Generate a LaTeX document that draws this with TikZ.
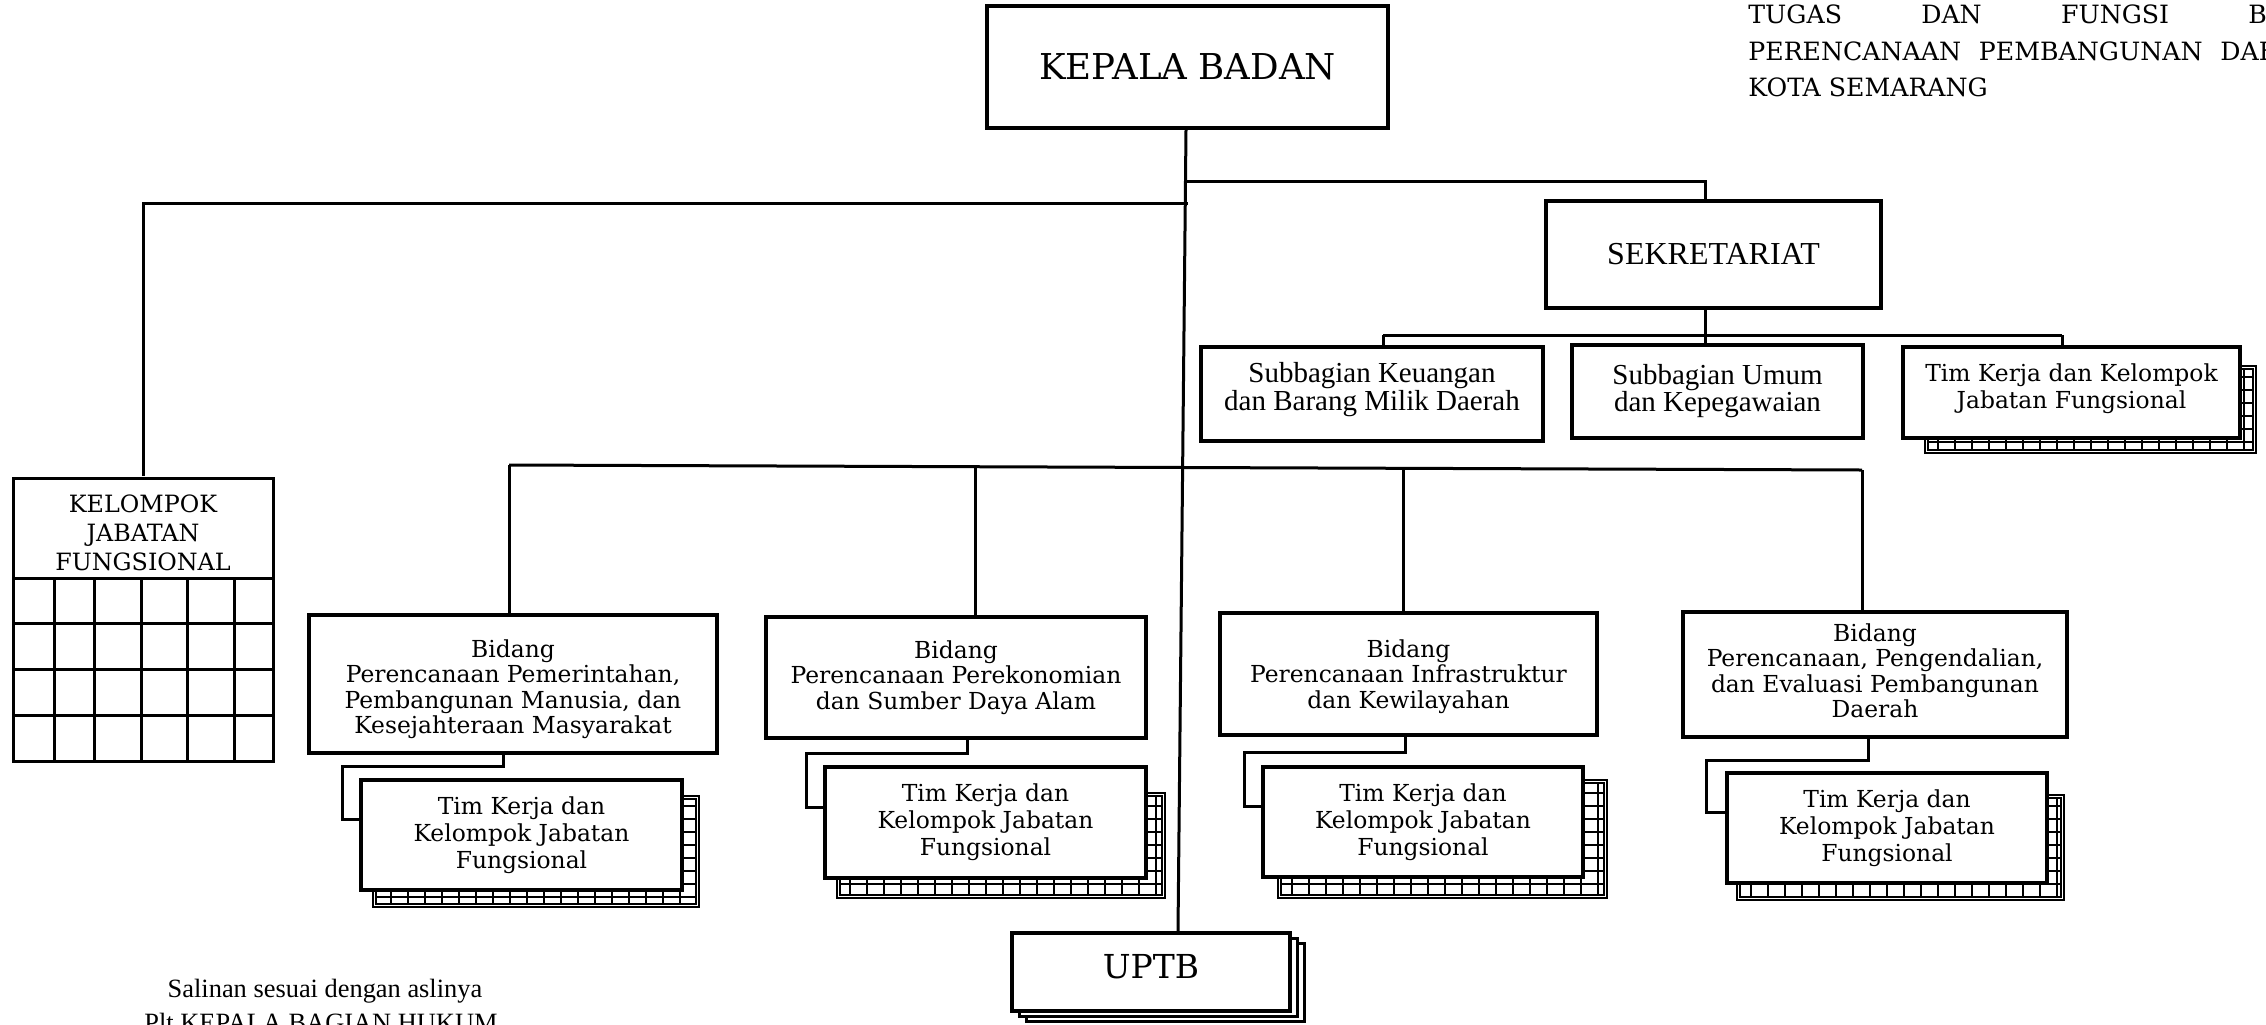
\documentclass[tikz,border=0pt]{standalone}
\usepackage{fontspec}
\setmainfont{DejaVu Serif}
\newfontfamily\tms{Liberation Serif}
\newcommand\bx[7]{\node[#1, minimum width={(#5-#3)*0.5pt}, minimum height={(#6-#4)*0.5pt}] (#2) at ({(#3+#5)/2},{(#4+#6)/2}) {#7};}
\newcommand\mv[2]{\raisebox{#1}[\height][\depth]{\begin{tabular}{@{}c@{}}#2\end{tabular}}}
\newcommand\gshadow[4]{%
  \fill[white] (#1,#2) rectangle (#3,#4);
  \begin{scope}
    \clip ({#1+3},{#2+3}) rectangle ({#3-3},{#4-3});
    \draw[line width=0.85pt, xstep=8.5pt, ystep=6.5pt] (#1,#2) grid (#3,#4);
  \end{scope}
  \draw[line width=0.9pt] (#1,#2) rectangle (#3,#4);
  \draw[line width=0.8pt] ({#1+3},{#2+3}) rectangle ({#3-3},{#4-3});
}
\begin{document}
\begin{tikzpicture}[x=0.5pt,y=-0.5pt,
  box/.style={draw, line width=1.8pt, fill=white, inner sep=0pt, align=center, font=\fontsize{11.7}{12.7}\selectfont},
  timbox/.style={box, line width=2.3pt, font=\fontsize{11.7}{13.5}\selectfont},
  tbox/.style={box, font=\tms\fontsize{14.5}{13.5}\selectfont},
  ln/.style={line width=1.5pt},
  gl/.style={line width=1.5pt}]
\useasboundingbox (0,0) rectangle (2266,1024);

% ---------- top right heading ----------
\begin{scope}[every node/.style={inner sep=0pt, anchor=base west, font=\fontsize{12.6}{13}\selectfont}]
\node (h1) at (1748,23) {\hbox to 250pt{TUGAS\hfill DAN\hfill FUNGSI\hfill\rlap{BADAN}}};
\node (h2) at (1748,60) {\hbox to 236pt{PERENCANAAN\hfill PEMBANGUNAN\hfill\rlap{DAERAH}}};
\node (h3) at (1748,96) {KOTA SEMARANG};
\end{scope}

% ---------- boxes ----------
\bx{box, font=\fontsize{17.8}{20}\selectfont}{kepala}{987}{6}{1388}{128}{KEPALA BADAN}
\bx{tbox, font=\tms\fontsize{16}{17}\selectfont}{sek}{1546}{201}{1881}{308}{SEKRETARIAT}
\bx{tbox}{keu}{1201}{347}{1543}{441}{\mv{1.8pt}{Subbagian Keuangan\\dan Barang Milik Daerah}}
\bx{tbox}{umum}{1572}{345}{1863}{438}{Subbagian Umum\\dan Kepegawaian}
\gshadow{1925}{366}{2256}{453}
\bx{timbox}{timr}{1903}{347}{2240}{438}{\mv{1.5pt}{Tim Kerja dan Kelompok\\Jabatan Fungsional}}

% Kelompok Jabatan Fungsional with grid
\bx{box, font=\fontsize{11.9}{14.5}\selectfont, draw=none, fill=none}{kjf}{13}{478}{273}{578}{\mv{-4pt}{KELOMPOK\\JABATAN\\FUNGSIONAL}}
\draw[gl] (13,478) rectangle (273,761);
\foreach \yy in {578,623,669,715} \draw[gl] (13,\yy) -- (273,\yy);
\foreach \xx in {54,94,141,187,234} \draw[gl] (\xx,578) -- (\xx,761);

% Bidang
\bx{box}{bid1}{309}{615}{717}{753}{\mv{-3.2pt}{Bidang\\Perencanaan Pemerintahan,\\Pembangunan Manusia, dan\\Kesejahteraan Masyarakat}}
\bx{box}{bid2}{766}{617}{1146}{738}{Bidang\\Perencanaan Perekonomian\\dan Sumber Daya Alam}
\bx{box}{bid3}{1220}{613}{1597}{735}{\mv{-1.8pt}{Bidang\\Perencanaan Infrastruktur\\dan Kewilayahan}}
\bx{box}{bid4}{1683}{612}{2067}{737}{\mv{0pt}{Bidang\\Perencanaan, Pengendalian,\\dan Evaluasi Pembangunan\\Daerah}}

% Tim Kerja under Bidang
\gshadow{373}{796}{699}{907}
\bx{timbox}{tim1}{361}{780}{682}{890}{Tim Kerja dan\\Kelompok Jabatan\\Fungsional}
\gshadow{837}{793}{1165}{898}
\bx{timbox}{tim2}{825}{767}{1146}{878}{Tim Kerja dan\\Kelompok Jabatan\\Fungsional}
\gshadow{1278}{780}{1607}{898}
\bx{timbox}{tim3}{1263}{767}{1583}{877}{Tim Kerja dan\\Kelompok Jabatan\\Fungsional}
\gshadow{1737}{795}{2064}{900}
\bx{timbox}{tim4}{1727}{773}{2047}{883}{Tim Kerja dan\\Kelompok Jabatan\\Fungsional}

% UPTB stack
\draw[line width=1.5pt, fill=white] (1026,943) rectangle (1304,1021);
\draw[line width=1.5pt, fill=white] (1019,938) rectangle (1297,1016);
\bx{box, line width=2pt, font=\fontsize{16.5}{18}\selectfont}{uptb}{1012}{933}{1290}{1011}{\raisebox{2.5pt}[\height][\depth]{UPTB}}

% ---------- coordinates ----------
\coordinate (mtop) at (1186,0);
\coordinate (mbot) at (1178,0);
\coordinate (jr) at (1186,181);
\coordinate (xs) at (1705,0);
\coordinate (jl) at (1188,203);
\coordinate (sb) at (1705,335);
\coordinate (sl) at (1383,335);
\coordinate (sr) at (2062,335);
\coordinate (b1) at (509,465);
\coordinate (b2) at (975,467);
\coordinate (b3) at (1403,468);
\coordinate (b4) at (1862,470);
\coordinate (k1a) at (503,766);  \coordinate (k1b) at (342,819);
\coordinate (k2a) at (967,753);  \coordinate (k2b) at (806,807);
\coordinate (k3a) at (1405,752); \coordinate (k3b) at (1244,806);
\coordinate (k4a) at (1868,760); \coordinate (k4b) at (1706,812);

% ---------- connectors ----------
\draw[ln] (kepala.south -| mtop) -- (uptb.north -| mbot);
\draw[ln] (jr) -- (jr -| xs) -- (sek.north -| xs);
\draw[ln] (jl) -- (jl -| kjf.north) -- (kjf.north);
\draw[ln] (sek.south -| sb) -- (sb);
\draw[ln] (sl) -- (sr);
\draw[ln] (sl) -- (sl |- keu.north);
\draw[ln] (sb) -- (sb |- umum.north);
\draw[ln] (sr) -- (sr |- timr.north);
\draw[ln] (b1) -- (b4);
\draw[ln] (b1) -- (b1 |- bid1.north);
\draw[ln] (b2) -- (b2 |- bid2.north);
\draw[ln] (b3) -- (b3 |- bid3.north);
\draw[ln] (b4) -- (b4 |- bid4.north);
\draw[ln] (k1a |- bid1.south) -- (k1a) -| (k1b) -- (k1b -| tim1.west);
\draw[ln] (k2a |- bid2.south) -- (k2a) -| (k2b) -- (k2b -| tim2.west);
\draw[ln] (k3a |- bid3.south) -- (k3a) -| (k3b) -- (k3b -| tim3.west);
\draw[ln] (k4a |- bid4.south) -- (k4a) -| (k4b) -- (k4b -| tim4.west);

% ---------- bottom left note ----------
\node[inner sep=0pt, anchor=base, font=\tms\fontsize{13.2}{14}\selectfont] (sal1) at (325,997) {Salinan sesuai dengan aslinya};
\node[inner sep=0pt, anchor=base, font=\tms\fontsize{13.2}{14}\selectfont] (sal2) at (321,1031) {Plt KEPALA BAGIAN HUKUM};
\end{tikzpicture}
\end{document}
